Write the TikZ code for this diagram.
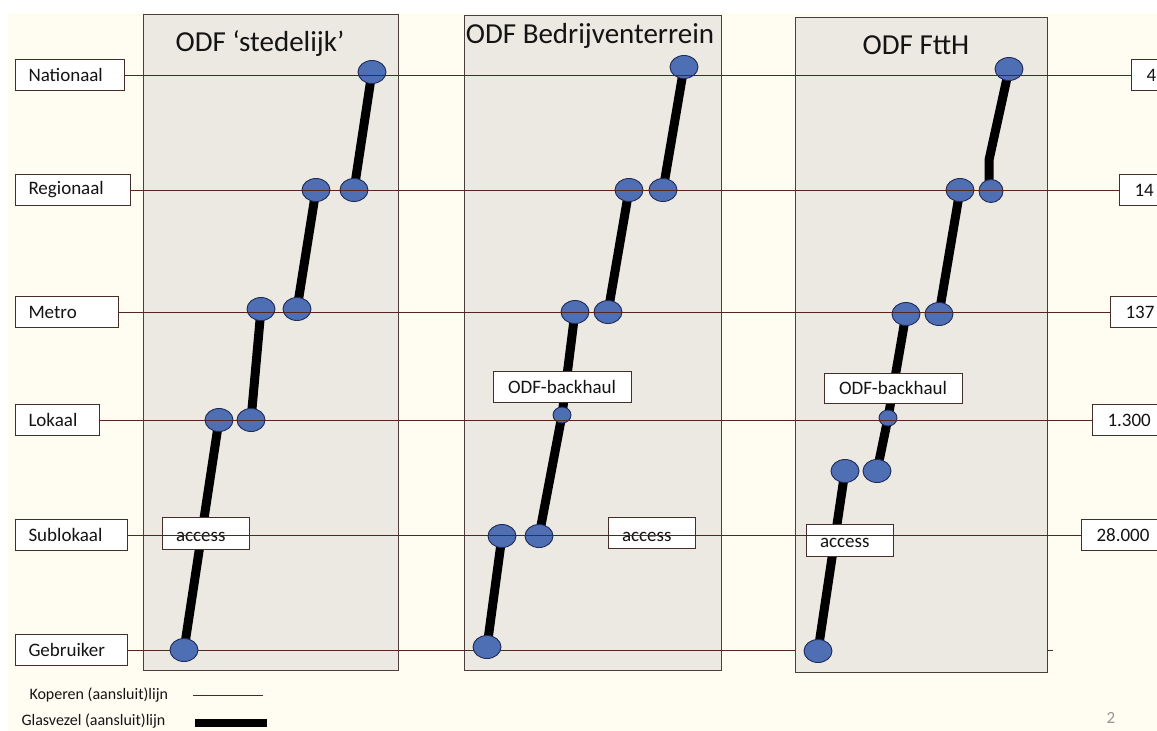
\documentclass[tikz,border=0pt]{standalone}
\usepackage{fontspec}
\setmainfont{Carlito}
\usetikzlibrary{shapes.geometric}
\pgfdeclarelayer{bg}
\pgfdeclarelayer{fibrelayer}
\pgfdeclarelayer{toplayer}
\pgfsetlayers{bg,fibrelayer,main,toplayer}
\definecolor{bgcream}{RGB}{255,253,242}
\definecolor{panelfill}{RGB}{236,233,226}
\definecolor{paneldraw}{RGB}{75,62,60}
\definecolor{boxdraw}{RGB}{70,45,40}
\definecolor{copperc}{RGB}{85,38,32}
\definecolor{nodeblue}{RGB}{79,111,181}
\definecolor{nodeedge}{RGB}{30,42,85}
\definecolor{textcol}{RGB}{20,20,20}
\definecolor{pagegray}{RGB}{150,150,150}
\begin{document}
\begin{tikzpicture}[x=1pt,y=-1pt,
  panel/.style={draw=paneldraw, fill=panelfill, line width=1.1pt, anchor=north west, inner sep=0pt},
  lbl/.style={draw=boxdraw, fill=white, line width=1pt, inner xsep=13pt, inner ysep=0pt,
    minimum height=31pt, anchor=west, align=left, font=\fontsize{19}{22}\selectfont, text=textcol},
  num/.style={lbl, inner xsep=15pt, text width=80pt},
  tagbox/.style={draw=boxdraw, fill=white, line width=1pt, inner ysep=0pt,
    font=\fontsize{19}{22}\selectfont, text=textcol},
  accbox/.style={tagbox, inner xsep=14pt, text width=59pt, align=left, text height=17pt, text depth=0pt},
  titlefont/.style={font=\fontsize{29}{34}\selectfont, text=textcol},
  legfont/.style={font=\fontsize{16}{19}\selectfont, text=textcol, anchor=west},
  copperline/.style={draw=copperc, line width=1pt},
  fibreline/.style={draw=black, line width=9pt},
  dot/.style={ellipse, draw=nodeedge, fill=nodeblue, line width=0.9pt,
    minimum width=28pt, minimum height=23pt, inner sep=0pt},
  smalldot/.style={dot, minimum width=18pt, minimum height=16pt}
]
\useasboundingbox (0,0) rectangle (1157,731);
\begin{pgfonlayer}{bg}
  \fill[white] (0,0) rectangle (1157,731);
  \fill[bgcream] (8,13) rectangle (1157,731);
  \node[panel, minimum width=255pt, minimum height=656pt] (p1) at (143,14) {};
  \node[panel, minimum width=257pt, minimum height=655pt] (p2) at (464,15) {};
  \node[panel, minimum width=252pt, minimum height=655pt] (p3) at (795,17) {};
\end{pgfonlayer}

% titles
\node[titlefont] (t1) at (260,44) {ODF ‘stedelijk’};
\node[titlefont] (t2) at (590,36) {ODF Bedrijventerrein};
\node[titlefont] (t3) at (916,45) {ODF FttH};

% level labels
\node[lbl, text width=83pt] (nat) at (15,75) {Nationaal};
\node[lbl, text width=89pt] (reg) at (15,190) {Regionaal};
\node[lbl, text width=77pt] (met) at (15,312) {Metro};
\node[lbl, text width=58pt] (lok) at (15,420) {Lokaal};
\node[lbl, text width=86pt] (sub) at (15,535) {Sublokaal};
\node[lbl, text width=86pt] (geb) at (15,650) {Gebruiker};

% numbers
\node[num] (n4) at (1131,75) {4};
\node[num] (n14) at (1119,190) {14};
\node[num] (n137) at (1110,312) {137};
\node[num] (n1300) at (1092,420) {1.300};
\node[num] (n28000) at (1081,535) {28.000};

% panel 1 dots
\node[dot] (a1n) at (372,72) {};
\node[dot] (a1r1) at (316,190) {};
\node[dot] (a1r2) at (354,190) {};
\node[dot] (a1m1) at (261,309) {};
\node[dot] (a1m2) at (297,309) {};
\node[dot] (a1l1) at (219,420) {};
\node[dot] (a1l2) at (251,420) {};
\node[dot] (a1g) at (184,650) {};

% panel 2 dots
\node[dot] (b2n) at (684,67) {};
\node[dot] (b2r1) at (629,190) {};
\node[dot] (b2r2) at (663,190) {};
\node[dot] (b2m1) at (575,312) {};
\node[dot] (b2m2) at (608,312) {};
\node[smalldot] (b2l) at (562,415) {};
\node[dot] (b2s1) at (502,536) {};
\node[dot] (b2s2) at (539,536) {};
\node[dot] (b2g) at (487,647) {};

% panel 3 dots
\node[dot] (c3n) at (1009,69) {};
\node[dot] (c3r1) at (960,190) {};
\node[dot, minimum width=24pt] (c3r2) at (991,191) {};
\node[dot] (c3m1) at (906,314) {};
\node[dot] (c3m2) at (939,314) {};
\node[smalldot] (c3l) at (888,418) {};
\node[dot] (c3x1) at (845,471) {};
\node[dot] (c3x2) at (877,471) {};
\node[dot] (c3g) at (818,651) {};
\coordinate (c3k) at (989,160);

% boxes inside panels
\node[tagbox, minimum width=138pt, minimum height=31pt] (bh2) at (562,386.5) {ODF-backhaul};
\node[tagbox, minimum width=138pt, minimum height=30pt] (bh3) at (893,388) {ODF-backhaul};
\node[accbox, minimum height=32pt] (acc1) at (205.5,533) {access};
\node[accbox, minimum height=31pt] (acc2) at (651.5,532.5) {access};
\node[accbox, minimum height=32pt, text height=14pt] (acc3) at (849.5,540) {access};

% fibre lines
\begin{pgfonlayer}{fibrelayer}
  \draw[fibreline] (a1n.center) -- (a1r2.center);
  \draw[fibreline] (a1r1.center) -- (a1m2.center);
  \draw[fibreline] (a1m1.center) -- (a1l2.center);
  \draw[fibreline] (a1l1.center) -- (a1g.center);
  \draw[fibreline] (b2n.center) -- (b2r2.center);
  \draw[fibreline] (b2r1.center) -- (b2m2.center);
  \draw[fibreline] (b2m1.center) -- (b2l.center) -- (b2s2.center);
  \draw[fibreline] (b2s1.center) -- (b2g.center);
  \draw[fibreline] (c3n.center) -- (c3k) -- (c3k |- c3r2.center);
  \draw[fibreline] (c3r1.center) -- (c3m2.center);
  \draw[fibreline] (c3m1.center) -- (c3l.center) -- (c3x2.center);
  \draw[fibreline] (c3x1.center) -- (c3g.center);
  % Gebruiker line lies below the dots
  \coordinate (gtick) at (1053,650);
  \draw[copperline] (geb) -- (geb -| p3.west);
  \draw[copperline] (geb -| p3.east) -- (gtick);
\end{pgfonlayer}

% copper level lines on top
\begin{pgfonlayer}{toplayer}
  \draw[copperline] (nat) -- (n4);
  \draw[copperline] (reg) -- (n14);
  \draw[copperline] (met) -- (n137);
  \draw[copperline] (lok) -- (n1300);
  \draw[copperline] (sub) -- (n28000);
\end{pgfonlayer}

% legend
\node[legfont] (leg1) at (26,695) {Koperen (aansluit)lijn};
\node[legfont] (leg2) at (18,721) {Glasvezel (aansluit)lijn};
\coordinate (k1) at (193,695);
\coordinate (k2) at (263,695);
\coordinate (g1) at (195,723);
\coordinate (g2) at (267,723);
\draw[copperline] (k1) -- (k2);
\draw[draw=black, line width=8pt] (g1) -- (g2);

% page number
\node[font=\fontsize{17}{20}\selectfont, text=pagegray] (pg) at (1111,718) {2};
\end{tikzpicture}
\end{document}
